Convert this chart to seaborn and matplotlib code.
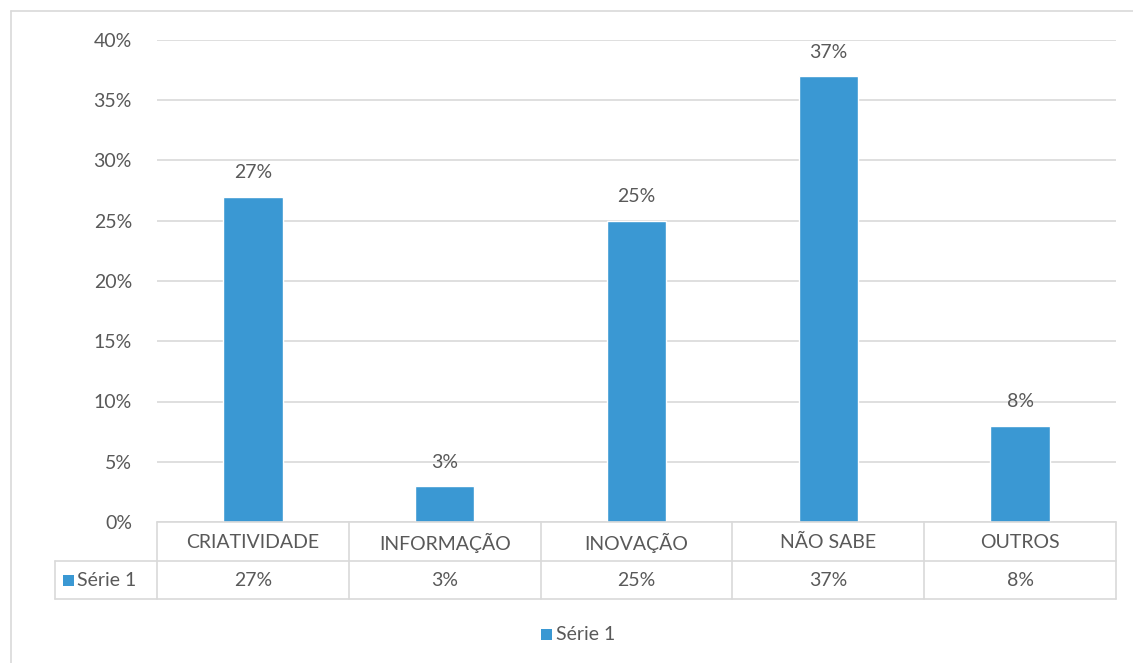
import matplotlib
matplotlib.use("Agg")
import matplotlib.pyplot as plt
import seaborn as sns
import pandas as pd
from matplotlib.lines import Line2D
from matplotlib.patches import Rectangle
from matplotlib.ticker import FuncFormatter, MultipleLocator

categories = ["CRIATIVIDADE", "INFORMAÇÃO", "INOVAÇÃO", "NÃO SABE", "OUTROS"]
values = [0.27, 0.03, 0.25, 0.37, 0.08]
series_name = "Série 1"

BAR = "#3A98D3"
TEXT = "#595959"
GRID = "#D9D9D9"
FS = 14

sns.set_theme(style="white")
plt.rcParams["font.family"] = ["Lato", "DejaVu Sans"]

W, H = 1133, 663
fig = plt.figure(figsize=(W / 100, H / 100), dpi=100)

def fx(px):
    return px / W

def fy(py):
    return 1 - py / H

# plot area
x0, x1, ytop, ybot = 157, 1116, 40, 522
ax = fig.add_axes([fx(x0), fy(ybot), fx(x1) - fx(x0), fy(ytop) - fy(ybot)])

df = pd.DataFrame({"cat": categories, "val": values})
sns.barplot(data=df, x="cat", y="val", color=BAR, width=0.31, saturation=1, ax=ax)

ax.set_ylim(0, 0.40)
ax.set_xlim(-0.5, len(categories) - 0.5)
ax.yaxis.set_major_locator(MultipleLocator(0.05))
ax.yaxis.set_major_formatter(FuncFormatter(lambda v, _: f"{v * 100:.0f}%"))
ax.grid(axis="y", color=GRID, linewidth=1.2)
ax.set_axisbelow(True)
for s in ax.spines.values():
    s.set_visible(False)
ax.set_xlabel("")
ax.set_ylabel("")
ax.set_xticks([])
ax.tick_params(axis="y", length=0, pad=18, labelsize=FS, labelcolor=TEXT)

for i, v in enumerate(values):
    ax.annotate(f"{v * 100:.0f}%", (i, v), xytext=(0, 11), textcoords="offset points",
                ha="center", va="bottom", fontsize=FS, color=TEXT)

# outer chart border (top and left visible)
fig.add_artist(Line2D([fx(11), fx(1133)], [fy(11), fy(11)], color=GRID, lw=1.2))
fig.add_artist(Line2D([fx(11), fx(11)], [fy(11), fy(663)], color=GRID, lw=1.2))

# data table below the plot
t_left, t_top, t_mid, t_bot = 55, 522, 561, 599
colw = (x1 - x0) / len(categories)
lc = dict(color=GRID, lw=1.2)
fig.add_artist(Line2D([fx(x0), fx(x1)], [fy(t_top), fy(t_top)], **lc))
fig.add_artist(Line2D([fx(t_left), fx(x1)], [fy(t_mid), fy(t_mid)], **lc))
fig.add_artist(Line2D([fx(t_left), fx(x1)], [fy(t_bot), fy(t_bot)], **lc))
fig.add_artist(Line2D([fx(t_left), fx(t_left)], [fy(t_mid), fy(t_bot)], **lc))
for k in range(len(categories) + 1):
    xx = x0 + k * colw
    fig.add_artist(Line2D([fx(xx), fx(xx)], [fy(t_top), fy(t_bot)], **lc))

for k, (c, v) in enumerate(zip(categories, values)):
    cx = x0 + (k + 0.5) * colw
    fig.text(fx(cx), fy((t_top + t_mid) / 2 + 1), c, ha="center", va="center",
             fontsize=FS, color=TEXT)
    fig.text(fx(cx), fy((t_mid + t_bot) / 2), f"{v * 100:.0f}%", ha="center",
             va="center", fontsize=FS, color=TEXT)

# series key in the table row
fig.add_artist(Rectangle((fx(63), fy(586)), fx(11), fy(575) - fy(586),
                         facecolor=BAR, edgecolor="none"))
fig.text(fx(77), fy(580), series_name, ha="left", va="center", fontsize=FS, color=TEXT)

# legend
fig.add_artist(Rectangle((fx(541), fy(640)), fx(11), fy(629) - fy(640),
                         facecolor=BAR, edgecolor="none"))
fig.text(fx(556), fy(634), series_name, ha="left", va="center", fontsize=FS, color=TEXT)

fig.savefig("out.png", dpi=100, facecolor="white")
